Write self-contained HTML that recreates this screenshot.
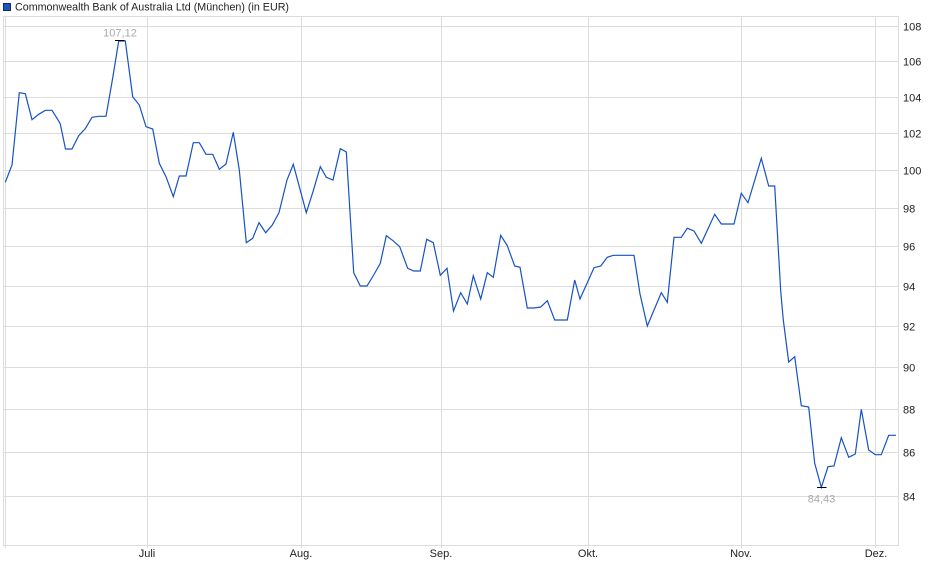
<!DOCTYPE html>
<html>
<head>
<meta charset="utf-8">
<style>
html,body{margin:0;padding:0;background:#fff;}
svg{display:block;}
text{font-family:"Liberation Sans",Arial,sans-serif;}
</style>
</head>
<body>
<svg width="940" height="579" viewBox="0 0 940 579" xmlns="http://www.w3.org/2000/svg">
<rect x="0" y="0" width="940" height="579" fill="#ffffff"/>
<!-- legend -->
<rect x="3.5" y="3.5" width="7" height="7" fill="#1a56c2" stroke="#1b2b55" stroke-width="1"/>
<text x="15" y="10.5" font-size="11" fill="#222" textLength="274" lengthAdjust="spacingAndGlyphs">Commonwealth Bank of Australia Ltd (München) (in EUR)</text>

<!-- horizontal gridlines -->
<g stroke="#dcdcdc" stroke-width="1" shape-rendering="crispEdges">
<line x1="3" y1="26.5" x2="898" y2="26.5"/>
<line x1="3" y1="61.5" x2="898" y2="61.5"/>
<line x1="3" y1="97.5" x2="898" y2="97.5"/>
<line x1="3" y1="133.5" x2="898" y2="133.5"/>
<line x1="3" y1="170.5" x2="898" y2="170.5"/>
<line x1="3" y1="208.5" x2="898" y2="208.5"/>
<line x1="3" y1="246.5" x2="898" y2="246.5"/>
<line x1="3" y1="286.5" x2="898" y2="286.5"/>
<line x1="3" y1="326.5" x2="898" y2="326.5"/>
<line x1="3" y1="367.5" x2="898" y2="367.5"/>
<line x1="3" y1="409.5" x2="898" y2="409.5"/>
<line x1="3" y1="452.5" x2="898" y2="452.5"/>
<line x1="3" y1="496.5" x2="898" y2="496.5"/>
<!-- vertical gridlines with ticks -->
<line x1="5.5" y1="16" x2="5.5" y2="548"/>
<line x1="147.5" y1="16" x2="147.5" y2="548"/>
<line x1="301.5" y1="16" x2="301.5" y2="548"/>
<line x1="441.5" y1="16" x2="441.5" y2="548"/>
<line x1="588.5" y1="16" x2="588.5" y2="548"/>
<line x1="741.5" y1="16" x2="741.5" y2="548"/>
<line x1="875.5" y1="16" x2="875.5" y2="548"/>
<!-- frame -->
<rect x="3.5" y="16.5" width="895" height="529" fill="none"/>
</g>

<!-- y labels -->
<g font-size="11" fill="#222">
<text x="903" y="30.5">108</text>
<text x="903" y="65.5">106</text>
<text x="903" y="101.5">104</text>
<text x="903" y="137.5">102</text>
<text x="903" y="174.5">100</text>
<text x="903" y="212.5">98</text>
<text x="903" y="250.5">96</text>
<text x="903" y="290.5">94</text>
<text x="903" y="330.5">92</text>
<text x="903" y="371.5">90</text>
<text x="903" y="413.5">88</text>
<text x="903" y="456.5">86</text>
<text x="903" y="500.5">84</text>
</g>
<!-- x labels -->
<g font-size="11" fill="#222" text-anchor="middle">
<text x="147" y="557">Juli</text>
<text x="301" y="557">Aug.</text>
<text x="441" y="557">Sep.</text>
<text x="588" y="557">Okt.</text>
<text x="741" y="557">Nov.</text>
<text x="876" y="557">Dez.</text>
</g>

<!-- price line -->
<polyline fill="none" stroke="#1652c4" stroke-width="1.2" stroke-linejoin="miter" points="
5.3,182.3 12,165 19.3,92.7 25.3,93.7 32,119.7 38.7,114.3 45.3,110.3 52,110.3 58.7,121 60.3,124 65.5,149 72,149 78.7,135.7 85.3,128.7 92,117.3 98.7,116.3 106,116.3 112.7,78 118.7,41 125.3,41 132.7,96.7 139.3,105 146,126.7 152.7,129 159.3,163.3 166,176.7 173.3,196.7 179.3,176 186,176 193.3,142.7 199.3,142.7 206,154.3 212.7,154.3 219.3,169.3 226,164 233.3,132.3 239.3,170 246.3,242.7 252.7,238.3 259,222.7 265.7,232.7 272.3,225 279,212.7 287,180 293.3,164.3 306.3,212.7 313,191.7 320.3,166.7 326.3,177.3 333,180 340.3,148.7 346.3,152 353.7,272.7 360.3,286 367,286 373.7,275 380.3,263.3 386.3,235.7 393,240.7 399.7,246.7 407.7,268.3 413.7,271 420.3,271 426.7,239.3 433.3,242.7 440.3,275.3 447,268.3 453.5,311 460.7,292.7 467.3,304 473.3,275.7 480.7,299 487.3,272.7 493.3,277.3 500.7,235.3 507.3,245.7 514.7,266 520,267.3 527.3,308 534,308 540.7,307 547.3,300.7 554.7,320 567.3,320 574.7,280 580,299 594,267.7 600.7,266 607.3,257.3 613.3,255.3 634,255.3 640,294 647.3,326 661.3,292.7 667.3,302.3 674,237.3 681.3,237.3 687.3,228.3 694,231 701.3,243.3 714.7,214.3 721.3,224 734,224 741.3,193.3 748,202.7 761.3,158.3 768.7,186 774.7,186 780.7,291 783.3,320 788.7,362 794.7,356.7 801.3,405.7 808.7,407 814.7,463.3 821.3,487.3 828,466.7 834,466 841.3,437.7 848.7,457.3 855.3,454 861.3,409.3 868.7,450 875.3,454.7 881.3,454.7 888.7,435.3 896,435.3"/>

<!-- high / low markers -->
<line x1="115" y1="40.5" x2="124.5" y2="40.5" stroke="#000" stroke-width="1"/>
<text x="120" y="36.5" font-size="11" fill="#a3aab5" text-anchor="middle">107,12</text>
<line x1="817" y1="487.5" x2="826.5" y2="487.5" stroke="#000" stroke-width="1"/>
<text x="821.5" y="502.5" font-size="11" fill="#aba8a4" text-anchor="middle">84,43</text>
</svg>
</body>
</html>
